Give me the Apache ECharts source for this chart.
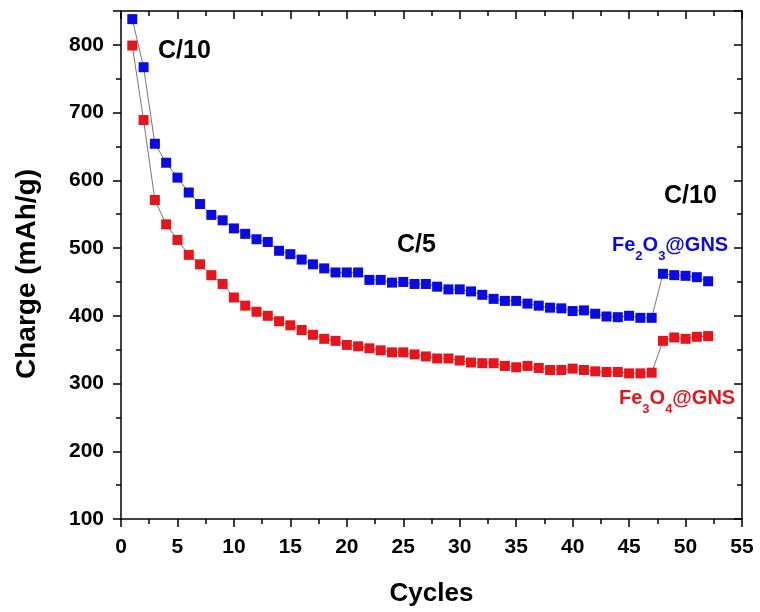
<!DOCTYPE html>
<html>
<head>
<meta charset="utf-8">
<script src="https://cdn.jsdelivr.net/npm/echarts@6/dist/echarts.min.js"></script>
<style>html,body{margin:0;padding:0;background:#fff;}#c{width:760px;height:612px;}</style>
</head>
<body>
<div id="c"></div>
<script>
const cycles = [1,2,3,4,5,6,7,8,9,10,11,12,13,14,15,16,17,18,19,20,21,22,23,24,25,26,27,28,29,30,31,32,33,34,35,36,37,38,39,40,41,42,43,44,45,46,47,48,49,50,51,52];
const fe2o3 = [838,767,654,626,604,582,565,549,541,529,521,513,509,496,491,483,476,470,464,464,464,453,453,449,450,447,447,443,439,439,436,431,425,422,422,418,415,412,411,407,408,403,399,398,400,397,397,462,460,459,457,451];
const fe3o4 = [799,689,571,535,512,490,476,460,447,427,415,406,400,392,386,379,372,366,363,357,355,352,349,346,346,343,340,337,337,334,331,330,330,326,324,326,323,320,320,322,320,318,317,317,315,315,316,363,368,366,369,370];
const xTicks = [0,5,10,15,20,25,30,35,40,45,50,55];
const yTicks = [100,200,300,400,500,600,700,800];

const FONT = '"Liberation Sans", Arial, sans-serif';
const BLUE = '#0a0ae6', RED = '#e8141a';
const chart = echarts.init(document.getElementById('c'), null, {renderer:'canvas'});
const axisCommon = {
  axisLine:{show:true,onZero:false,lineStyle:{color:'#000',width:1.5}},
  splitLine:{show:false}
};
const tickStyle = {width:1.5,color:'#000'};
function sub(main, color){
  return {
    text: main, fill: color,
    rich:{a:{fontFamily:FONT,fontWeight:'bold',fontSize:20,fill:color,lineHeight:22,verticalAlign:'top'},
          s:{fontFamily:FONT,fontWeight:'bold',fontSize:13,fill:color,lineHeight:16,padding:[15,0,0,0],verticalAlign:'top'}}
  };
}
const opt = {
  animation:false,
  backgroundColor:'#fff',
  grid:{left:121,right:18,top:11,bottom:93,containLabel:false},
  xAxis:[
    Object.assign({type:'value',min:0,max:55,interval:5,position:'bottom',
      axisTick:{show:true,inside:false,length:8,lineStyle:tickStyle},
      minorTick:{show:true,splitNumber:2,length:5,lineStyle:tickStyle},
      axisLabel:{show:true,margin:18,color:'#000',fontFamily:FONT,fontWeight:'bold',fontSize:21,
        formatter:v=>xTicks.indexOf(v)>=0?String(v):''},
      name:'Cycles',nameLocation:'middle',nameGap:62,
      nameTextStyle:{color:'#000',fontFamily:FONT,fontWeight:'bold',fontSize:26}
    },axisCommon),
    Object.assign({type:'value',min:0,max:55,interval:5,position:'top',
      axisTick:{show:true,inside:true,length:8,lineStyle:tickStyle},
      minorTick:{show:true,splitNumber:2,length:5,lineStyle:tickStyle},
      axisLabel:{show:false}
    },axisCommon)
  ],
  yAxis:[
    Object.assign({type:'value',min:100,max:850,interval:100,position:'left',
      axisTick:{show:true,inside:false,length:8,lineStyle:tickStyle},
      minorTick:{show:true,splitNumber:2,length:5,lineStyle:tickStyle},
      axisLabel:{show:true,margin:17,color:'#000',fontFamily:FONT,fontWeight:'bold',fontSize:21,
        formatter:v=>yTicks.indexOf(v)>=0?String(v):''}
    },axisCommon),
    Object.assign({type:'value',min:100,max:850,interval:100,position:'right',
      axisTick:{show:true,inside:true,length:8,lineStyle:tickStyle},
      minorTick:{show:true,splitNumber:2,length:5,lineStyle:tickStyle},
      axisLabel:{show:false}
    },axisCommon)
  ],
  series:[
    {name:'Fe2O3@GNS',type:'line',data:cycles.map((c,i)=>[c,fe2o3[i]]),
     symbol:'rect',symbolSize:10,showAllSymbol:true,
     lineStyle:{color:'#777',width:1},itemStyle:{color:BLUE},z:3},
    {name:'Fe3O4@GNS',type:'line',data:cycles.map((c,i)=>[c,fe3o4[i]]),
     symbol:'rect',symbolSize:10,showAllSymbol:true,
     lineStyle:{color:'#777',width:1},itemStyle:{color:RED},z:3}
  ],
  graphic:[
    {type:'text',x:27,y:274,rotation:Math.PI/2,
     style:{text:'Charge (mAh/g)',fill:'#000',font:'bold 28px '+FONT,align:'center',verticalAlign:'middle'}},
    {type:'text',left:158,top:39,style:{text:'C/10',fill:'#000',font:'bold 25px '+FONT}},
    {type:'text',left:397,top:233,style:{text:'C/5',fill:'#000',font:'bold 25px '+FONT}},
    {type:'text',left:664,top:184,style:{text:'C/10',fill:'#000',font:'bold 25px '+FONT}},
    {type:'text',left:612,top:235,style:sub('{a|Fe}{s|2}{a|O}{s|3}{a|@GNS}',BLUE)},
    {type:'text',left:619,top:388,style:sub('{a|Fe}{s|3}{a|O}{s|4}{a|@GNS}',RED)}
  ]
};
chart.setOption(opt);
</script>
</body>
</html>
